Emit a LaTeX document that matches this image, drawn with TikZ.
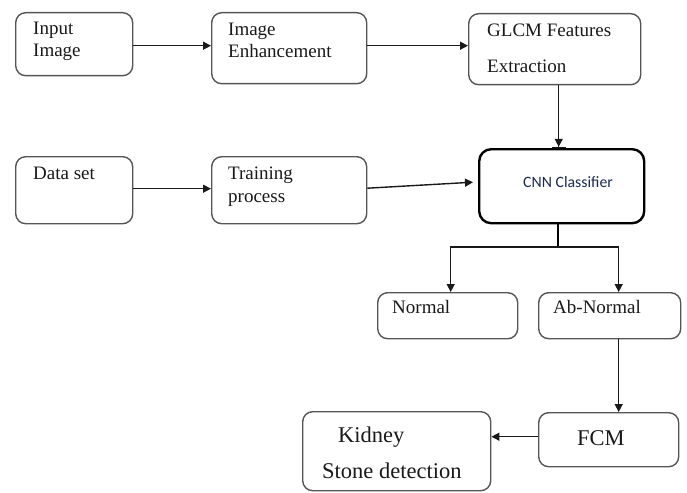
\documentclass[tikz,border=0pt]{standalone}
\usepackage{fontspec}
\setmainfont{Liberation Serif}
\newfontfamily\calibrifont{Carlito}
\usetikzlibrary{arrows.meta}
\definecolor{boxgray}{RGB}{85,85,85}
\definecolor{ink}{RGB}{25,25,25}
\definecolor{navy}{RGB}{28,42,78}

\begin{document}
\begin{tikzpicture}[x=1pt,y=-1pt,
  box/.style={draw=boxgray, line width=1.4pt, rounded corners=10pt,
    inner sep=0pt, anchor=north west},
  boldbox/.style={draw=black, line width=2.4pt, rounded corners=12pt,
    inner sep=0pt, anchor=north west},
  txt/.style={anchor=base west, inner sep=0pt, text=ink,
    font=\fontsize{19}{22}\selectfont},
  bigtxt/.style={anchor=base west, inner sep=0pt, text=ink,
    font=\fontsize{22.5}{26}\selectfont},
  arr/.style={draw=ink, line width=1.4pt, -{Triangle[length=8pt,width=8pt]}}]

\useasboundingbox (0,0) rectangle (687,492);

% boxes
\node[box, minimum width=117pt, minimum height=63pt] (inp)   at (15,12)  {};
\node[box, minimum width=155pt, minimum height=71pt] (enh)   at (211,12) {};
\node[box, minimum width=172pt, minimum height=71pt] (glcm)  at (468,13) {};
\node[boldbox, minimum width=165pt, minimum height=74pt] (cnn) at (478,148) {};
\node[box, minimum width=117pt, minimum height=67pt] (data)  at (15,156) {};
\node[box, minimum width=155pt, minimum height=67pt] (train) at (211,156) {};
\node[box, minimum width=140pt, minimum height=46pt] (norm)  at (377,292) {};
\node[box, minimum width=142pt, minimum height=46pt] (abn)   at (538,292) {};
\node[box, minimum width=140pt, minimum height=54pt] (fcm)   at (538,412) {};
\node[box, minimum width=188pt, minimum height=79pt] (kid)   at (302,411) {};

% labels
\node[txt] (tInput)  at (33,35)  {Input};
\node[txt] (tImage)  at (33,57)  {Image};
\node[txt] (tEnh1)   at (228,36) {Image};
\node[txt] (tEnh2)   at (228,58) {Enhancement};
\node[txt] (tGlcm1)  at (487,37) {GLCM Features};
\node[txt] (tGlcm2)  at (487,73) {Extraction};
\node[anchor=base west, inner sep=0pt, text=navy,
      font=\calibrifont\fontsize{15.8}{18}\selectfont] (tCnn) at (523,187) {CNN Classifier};
\node[txt] (tData)   at (33,179)  {Data set};
\node[txt] (tTrain1) at (228,179) {Training};
\node[txt] (tTrain2) at (228,202) {process};
\node[txt] (tNorm)   at (392,313) {Normal};
\node[txt] (tAbn)    at (553,313) {Ab-Normal};
\node[bigtxt] (tFcm)  at (577,445) {FCM};
\node[bigtxt] (tKid1) at (338,442) {Kidney};
\node[bigtxt] (tKid2) at (322,478) {Stone detection};

% connectors
\draw[arr] ([yshift=-1.5pt]inp.east) -- ([yshift=-1.5pt]inp.east -| enh.west);
\draw[arr] ([yshift=-1.5pt]inp.east -| enh.east) -- ([yshift=-1.5pt]inp.east -| glcm.west);
\draw[draw=ink, line width=1.4pt,
      -{Triangle[length=8pt,width=8pt] Bar[width=14pt,line width=1.2pt]}]
      ([xshift=4pt]glcm.south) -- ([xshift=4pt]glcm.south |- cnn.north);
\draw[arr] ([yshift=1.5pt]data.east) -- ([yshift=1.5pt]data.east -| train.west);
\draw[arr] ([yshift=2pt]train.east) -- ([xshift=-5pt,yshift=4pt]cnn.west);

\coordinate (split) at (558,247);
\draw[draw=black, line width=2.4pt] (cnn.south -| split) -- (split);
\draw[arr] (split) -| ([xshift=3pt]norm.north);
\draw[arr] (split) -| ([xshift=9pt]abn.north);
\draw[arr] ([xshift=9pt]abn.south) -- ([xshift=9pt]abn.south |- fcm.north);
\draw[arr] ([yshift=3pt]fcm.west) -- ([yshift=3pt]fcm.west -| kid.east);
\end{tikzpicture}
\end{document}
